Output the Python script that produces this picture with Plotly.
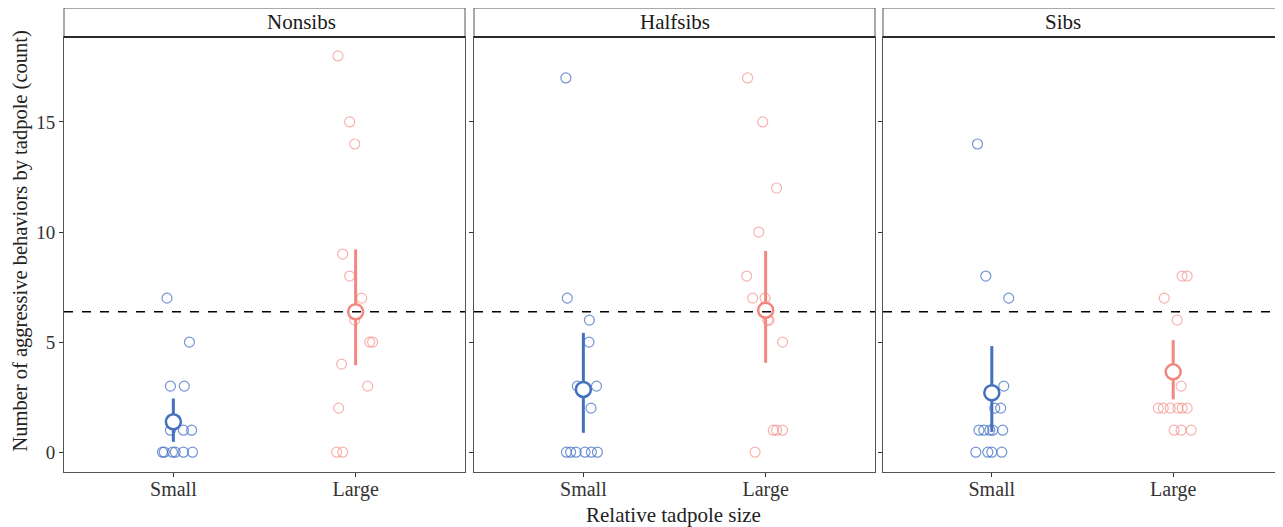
import plotly.graph_objects as go

panels = ["Nonsibs", "Halfsibs", "Sibs"]
sizes = ["Small", "Large"]

# individual observations (count) and horizontal jitter (x units) per panel/size
nonsibs_small_y = [7, 5, 3, 3, 1, 1, 1, 0, 0, 0, 0, 0, 0]
nonsibs_small_j = [-0.035, 0.088, -0.016, 0.06, -0.016, 0.055, 0.1, -0.06, -0.05, -0.005, 0.01, 0.055, 0.105]
nonsibs_large_y = [18, 15, 14, 9, 8, 7, 6, 5, 5, 4, 3, 2, 0, 0]
nonsibs_large_j = [-0.097, -0.033, -0.005, -0.071, -0.033, 0.033, -0.005, 0.077, 0.093, -0.077, 0.066, -0.093, -0.104, -0.071]

halfsibs_small_y = [17, 7, 6, 5, 3, 3, 2, 0, 0, 0, 0, 0, 0]
halfsibs_small_j = [-0.096, -0.088, 0.033, 0.031, -0.033, 0.072, 0.042, -0.093, -0.07, -0.04, 0.009, 0.044, 0.077]
halfsibs_large_y = [17, 15, 12, 10, 8, 7, 7, 6, 6, 5, 1, 1, 1, 0]
halfsibs_large_j = [-0.099, -0.016, 0.06, -0.038, -0.104, -0.071, -0.003, 0.011, 0.019, 0.093, 0.042, 0.06, 0.093, -0.058]

sibs_small_y = [14, 8, 7, 3, 2, 2, 1, 1, 1, 1, 1, 0, 0, 0, 0]
sibs_small_j = [-0.079, -0.033, 0.093, 0.066, 0.016, 0.049, -0.071, -0.044, -0.011, 0.005, 0.06, -0.088, -0.022, 0.0, 0.055]
sibs_large_y = [8, 8, 7, 6, 3, 2, 2, 2, 2, 2, 2, 1, 1, 1]
sibs_large_j = [0.049, 0.077, -0.049, 0.022, 0.044, -0.082, -0.055, -0.016, 0.027, 0.049, 0.077, 0.005, 0.044, 0.099]

# model estimates: mean, lower, upper
means = {"Nonsibs": [1.38, 6.38], "Halfsibs": [2.85, 6.45], "Sibs": [2.70, 3.65]}
lowers = {"Nonsibs": [0.47, 3.95], "Halfsibs": [0.88, 4.06], "Sibs": [0.92, 2.40]}
uppers = {"Nonsibs": [2.44, 9.21], "Halfsibs": [5.42, 9.14], "Sibs": [4.82, 5.09]}
grand_mean = 6.38

obs = {
    "Nonsibs": [(nonsibs_small_y, nonsibs_small_j), (nonsibs_large_y, nonsibs_large_j)],
    "Halfsibs": [(halfsibs_small_y, halfsibs_small_j), (halfsibs_large_y, halfsibs_large_j)],
    "Sibs": [(sibs_small_y, sibs_small_j), (sibs_large_y, sibs_large_j)],
}

pt_colors = ["rgba(68,114,196,0.75)", "rgba(242,128,120,0.6)"]
main_colors = ["#4470BE", "#F2877F"]

# page body has an 8px margin; figure is sized/offset to compensate
W, H = 1275, 519
ml, mr, mt, mb = 56, 1, 29, 55
pw = W - ml - mr
ph = H - mt - mb
edges = [(56, 457), (466, 867), (875, 1274)]
domains = [((a - ml) / pw, (b - ml) / pw) for a, b in edges]

FONT = "Liberation Serif"
fig = go.Figure()

for i, p in enumerate(panels):
    xa = "x" if i == 0 else f"x{i+1}"
    ya = "y" if i == 0 else f"y{i+1}"
    for k in range(2):
        yv, jv = obs[p][k]
        fig.add_trace(go.Scatter(
            x=[k + 1 + j for j in jv], y=yv, mode="markers", xaxis=xa, yaxis=ya,
            marker=dict(symbol="circle-open", size=10, color=pt_colors[k], line=dict(width=1.2)),
            showlegend=False, hoverinfo="y"))
    for k in range(2):
        m = means[p][k]
        fig.add_trace(go.Scatter(
            x=[k + 1], y=[m], mode="markers", xaxis=xa, yaxis=ya,
            error_y=dict(type="data", symmetric=False, array=[uppers[p][k] - m],
                         arrayminus=[m - lowers[p][k]], thickness=3, width=0, color=main_colors[k]),
            marker=dict(symbol="circle", size=15, color="white", line=dict(width=2.5, color=main_colors[k])),
            showlegend=False))
    axis_common = dict(showline=True, mirror=True, linecolor="#555", linewidth=1, showgrid=False,
                       zeroline=False, ticks="outside", ticklen=4, tickcolor="#333")
    fig.update_layout(**{
        ("xaxis" if i == 0 else f"xaxis{i+1}"): dict(
            domain=list(domains[i]), anchor=ya, range=[0.4, 2.6], tickvals=[1, 2], ticktext=sizes,
            tickfont=dict(family=FONT, size=20, color="#333"), ticklabelstandoff=-5, **axis_common),
        ("yaxis" if i == 0 else f"yaxis{i+1}"): dict(
            domain=[0, 1], anchor=xa, range=[-0.9, 18.86], tickvals=[0, 5, 10, 15],
            tickfont=dict(family=FONT, size=19, color="#333"),
            showticklabels=(i == 0), **axis_common),
    })
    fig.add_shape(type="line", xref=f"{xa} domain", yref=ya, x0=0, x1=1, y0=grand_mean, y1=grand_mean,
                  line=dict(color="black", width=1.5, dash="dash"))
    # strip
    fig.add_shape(type="rect", xref="paper", yref="paper", x0=domains[i][0], x1=domains[i][1],
                  y0=1, y1=1 + 29 / ph, line=dict(color="#555", width=1), fillcolor="white")
    fig.add_shape(type="line", xref="paper", yref="paper", x0=domains[i][0], x1=domains[i][1],
                  y0=1, y1=1, line=dict(color="black", width=1.5))
    fig.add_annotation(text=p, xref="paper", yref="paper", x=(domains[i][0] + domains[i][1]) / 2,
                       y=1 + 14.5 / ph, showarrow=False, yanchor="middle",
                       font=dict(family=FONT, size=21, color="#1a1a1a"))

fig.add_annotation(text="Relative tadpole size", xref="paper", yref="paper", x=0.5, y=0,
                   yshift=-43, yanchor="middle", showarrow=False, font=dict(family=FONT, size=21, color="#222"))
fig.add_annotation(text="Number of aggressive behaviors by tadpole (count)", xref="paper", yref="paper",
                   x=0, xshift=-44, y=0.5, yshift=13, textangle=-90, showarrow=False, xanchor="center",
                   font=dict(family=FONT, size=20.5, color="#222"))

fig.update_layout(width=W, height=H, margin=dict(l=ml, r=mr, t=mt, b=mb),
                  plot_bgcolor="white", paper_bgcolor="white", showlegend=False)
fig.write_html("out.html")
